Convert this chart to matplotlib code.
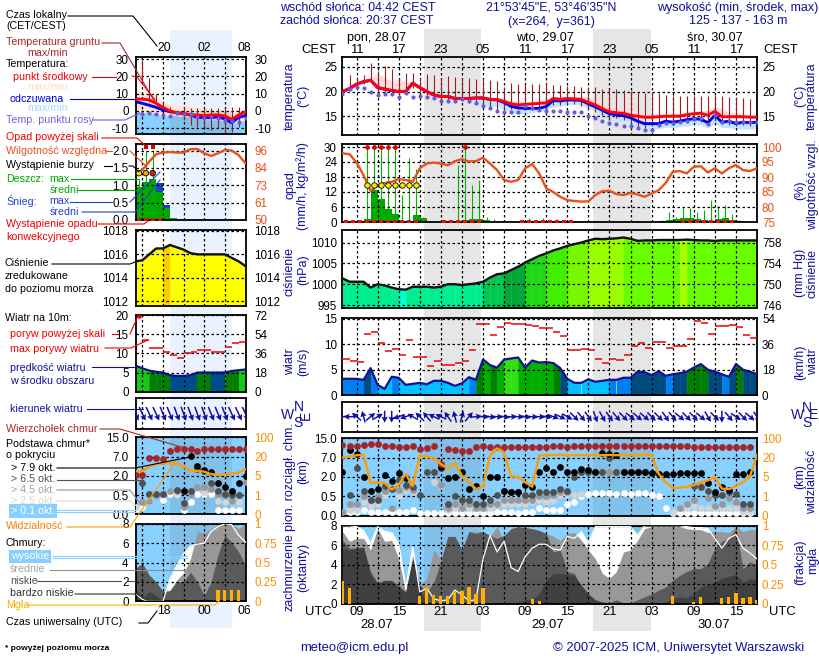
"""
meteogram from the ICM forecast page, redrawn with matplotlib
two sets of panels: short range column on the left, main column on the right
"""

import numpy as np
import matplotlib
matplotlib.use('Agg')
import matplotlib.pyplot as plt

plt.rcParams['font.family'] = ['Liberation Sans', 'DejaVu Sans']

W, H = 820, 660
nan = np.nan

# ── Main column (hours after 07 UTC 28.07) ────────────────────────────────────

temp_mid = [20, 20.6, 21.5, 22, 22.3, 20.8, 20.5, 20.2, 20, 20, 21.7, 20.8, 20, 19.3, 19, 19, 18.6, 18.6,
            18.6, 18.7, 18.7, 18.4, 18.4, 18, 17.5, 17.3, 17.4, 17.5, 17.6, 17.7, 18.6, 18.4, 18.6, 18.5, 18.4,
            17.8, 17.3, 16.5, 15.9, 15.7, 15.6, 15.2, 15, 14.8, 14.8, 14.9, 15, 15, 15, 15.3, 15.5, 15.6, 15.2,
            16, 14.9, 14.9, 14.9, 14.9, 14.8, 14.8]
temp_feel = [20, 20.6, 21.5, 22, 22.3, 20.8, 20.5, 20.2, 20, 20, 21.7, 20.8, 20, 19.3, 19, 19, 18.6, 18.6,
             18.6, 18.7, 18.7, 18.4, 18.3, 17.8, 17, 16.7, 16.6, 16.6, 16.6, 17, 18.2, 18.1, 18.3, 18.3, 18.2,
             17.5, 16.9, 16.2, 15.5, 15.3, 15.1, 14.7, 14, 13.5, 13.5, 13.5, 14, 13.8, 14, 14.3, 14.5, 14.4,
             13.7, 15.2, 13.8, 14, 13.5, 13.8, 13.7, 13.8]
temp_max = [20.2, 21, 21.8, 22.4, 22.8, 23.5, 23, 22, 22.5, 22, 22, 21, 21, 20, 19.4, 19.4, 19, 19, 19, 19.1,
            19.1, 18.8, 18.8, 18.6, 18.2, 18, 18, 18, 18.2, 18.4, 19, 19, 19.1, 19, 19, 19, 18.5, 18, 17.5, 17,
            16.5, 16.3, 16, 15.6, 15.5, 15.5, 15.5, 15.5, 15.5, 15.8, 16, 16.2, 16.2, 17, 16.6, 15.8, 15.6, 15.5,
            15.3, 15.2]
temp_feel_min = [19.8, 20.3, 21.2, 21.8, 22, 20.5, 20.2, 20, 19.8, 19.8, 21.4, 20.5, 19.8, 19, 18.7, 18.7, 18.3,
                 18.2, 18, 17.6, 17.2, 17, 17, 16.5, 15.7, 15.5, 15.5, 15.7, 16, 16.2, 17, 17, 17.4, 17.4, 17.2,
                 16.6, 16, 15, 14.4, 14.1, 13.9, 13.4, 12.8, 12.4, 12.3, 12.4, 12.8, 12.7, 12.9, 13, 13.3, 13.2,
                 12.6, 13.6, 12.7, 12.7, 12.4, 12.5, 12.4, 12.5]
ground_max = [nan, 23.3, 23, 23.4, 25.7, 24.2, 25.2, 24.6, 22.8, 23.8, 23.8, 22.8, 23.6, 23.3, 22.7, 23.1, 23, 22.7,
              22.7, 22.6, 22.5, 22.3, 22.1, 20.9, 21.7, 21.6, 21.5, 21.5, 21.6, 22, 21.4, 21.4, 21.2, 21.2, 21,
              20.9, 21, 20.5, 20.5, 20.5, 20.3, 20.1, 19.9, 19.8, 19.7, 19.7, 19.3, 19.2, 19.1, 19.1, 19, 19, 19,
              19.3, 19, 18.9, 18.8, 18.6, 18.4, nan]
ground_min = [nan, 20.3, 21, 21.6, 22, 20, 20, 19.8, 19.6, 19.8, 20.8, 19.9, 19.4, 18.8, 18.4, 18.3, 18.2, 18.2,
              17.7, 17.4, 17, 16.7, 16.2, 16.2, 16.4, 16.4, 16.6, 16.2, 16.2, 16.4, 17.2, 17.2, 17.4, 17.4, 17, 16.4,
              15.8, 15.2, 14.4, 14.6, 14.2, 13.4, 12.9, 12.7, 13, 13.2, 13.4, 13.2, 13.6, 13.8, 14, 13.8, 13.2,
              14, 13.4, 13.2, 13, 13.2, 13, nan]
dew_point = [19.5, 20.5, 21, 20.7, 20, 19.3, 19.5, 19.6, 18.8, 19.7, 18.9, 19.2, 18.8, 18.6, 18.1, 18, 18.1, 18.4,
             18, 17.6, 17, 16.7, 16, 15.8, 15.9, 15.8, 17, 16.7, 16.3, 16, 16, 16, 15.8, 15.8, 15.9, 15.1, 14.7,
             14, 13.6, 13.4, 13, 13, 12.7, 12.2, 12.3, 13.2, 13.7, 13.6, 13.9, 14, 14.4, 14.7, 13.5, 15.3, 13.8,
             14, 13.9, 13.9, 13.8, 13.9]

rain_mean = [0, 0, 0, 1.3, 12.7, 9.4, 5.4, 3.3, .6, .3, 2.7, 1.6, 0, 0, 0, 0, 0, 1, 1.2, 1.2, 1, 0, 0, 0, 0, 0, 0,
             0, 0, 0, 0, 0, 0, 0, 0, 0, 0, 0, 0, 0, 0, 0, 0, 0, .1, .4, 1, 1.1, 1.8, 1.8, 1.1, .7, .3, 1.2, 1.7,
             1, .3, .1, 0, 0]
rain_max = [0, 0, .3, 30, 30, 30, 30, 30, 10.7, 25.7, 21.4, 2, 0, .2, 0, 0, 23, 30, 14.7, 16.7, 2, 1.3, .5, .5, .3,
            1, 1.5, 1, 1.5, 1, 1.3, .8, .3, 0, 0, 0, 0, 0, 0, 0, 0, 0, 0, 0, .3, 1, 4, 2, 6, 5.8, 4, 5, 9, 6.3,
            6.7, 3.3, .8, .5, .3, 0]
over_scale_hours = [3, 4, 5, 6, 7, 17]
storm_hours = [3, 4, 5, 6, 7, 8, 9, 10]
storm_level = 15
convective_hours = [0, 1, 2, 3, 4, 5, 6, 7, 8, 9, 10, 14, 15, 16, 17, 18, 19, 25, 26, 27, 28, 29, 30, 31, 32,
                    48, 49, 50, 51, 52, 53, 54, 55]
humidity = [97.9, 97.6, 94.8, 90.6, 85.4, 87.3, 88, 88.4, 89.3, 89, 88.4, 92.9, 94.5, 94.8, 94.5, 93.9, 95.3, 95.9,
            95.2, 95.3, 96.4, 94.5, 92.3, 89, 88.4, 89, 92.9, 94.3, 91.2, 86.2, 85, 83.4, 82.3, 82, 81.8, 81.9, 84,
            85.3, 85.4, 84.3, 84, 84.7, 84.2, 83.4, 84.5, 85.6, 88, 91.7, 92, 91.2, 93.4, 93.6, 91.5, 92.9, 91.2,
            92.9, 94, 92.3, 92, 92.9]

pressure = [1001.4, 1000.6, 1000.6, 1000.6, 999.2, 1000, 999.7, 999.2, 998.8, 998.7, 999.4, 999.4, 999.4, 999.2,
            999.4, 1000, 1000, 999.8, 1000, 1000.2, 1000.6, 1001.6, 1002.4, 1002.6, 1003.4, 1004.2, 1005.2, 1006,
            1006.8, 1007.4, 1008.1, 1008.6, 1009.2, 1009.6, 1010, 1010.5, 1010.9, 1010.8, 1010.9, 1011, 1011.2,
            1010.9, 1010.4, 1010.5, 1010.5, 1010.6, 1010.6, 1010.6, 1010.6, 1010.7, 1010.6, 1010.5, 1010.5, 1010.4,
            1010.5, 1010.5, 1010.5, 1010.5, 1010.5, 1010.5]

wind = [3.2, 3.2, 3.2, 3, 5.3, 2, 1.2, 3.6, 3.4, 2, 2.2, 2.4, 2.1, 2.8, 2.8, 2.4, 1.8, 2.3, 3.5, 3, 7, 5.9, 5.4,
        7, 7.2, 7.4, 5.4, 6.8, 6.4, 6.5, 6.3, 5.3, 3.2, 2.4, 2.4, 3.1, 2.6, 2.8, 3, 3, 3.4, 3.4, 4.6, 4.5, 3.9,
        4.7, 3.8, 4.1, 4.3, 4.6, 5.4, 6.1, 5, 4.6, 4.1, 3.6, 6.1, 5, 4.6, 4.1]
gust = [7.2, 6.8, 6.6, 12, 12.4, 10.2, 8.6, 9.1, 7.8, 10.8, 7.4, 7.4, 5.7, 6.8, 5.9, 5.9, 6.4, 6.8, 8.8, 14.1,
        14.1, 11.8, 13.4, 14.3, 14.1, 14.1, 13.8, 13.6, 13.2, 13.2, 12.4, 11.6, 8.8, 8.8, 9, 8.8, 7.2, 6.3, 7.2,
        7, 7.8, 9.7, 10.2, 9.2, 10.4, 10.4, 9.2, 9.7, 9.7, 11, 14.6, 14.3, 12, 13.6, 13.6, 13.8, 13.4, 11.8, 11.3]
wind_bearing = [265, 270, 310, 345, 50, 60, 180, 180, 250, 250, 300, 315, 320, 295, 295, 325, 345, 15, 40, 85, 95,
                100, 95, 100, 90, 95, 100, 95, 95, 100, 110, 115, 120, 135, 140, 145, 160, 150, 145, 140, 135, 130,
                130, 130, 135, 135, 145, 140, 130, 135, 135, 130, 150, 135, 180, 140, 125, 135, 130, 145]

cloud_top = [12.2, 11.7, 12, 12.2, 12.8, 12.8, 12, 12, 11.3, 11.3, 12, 10.4, 10.9, 12, 5.4, 10.4, 10.3, 9.8, 9.8,
             11.3, 12, 11.3, 11.3, 11.3, 11.3, 11.3, 11.3, 11.3, 11.3, 11.3, 12, 12, 11.3, 12, 12, 12, 12, 12, 12,
             12, 12, 12, 12, 12, 12, 12, 12, 12, 12, 12, 11.3, 11.3, 11.3, 11.3, 11.3, 11.3, 11.3, 11.3, 11.3]
base_79 = [3.4, 10.2, 8.5, 2, .9, 1.1, 2.6, 1.7, 3, 1.9, nan, nan, nan, nan, 4.7, 1.9, 2, 3.2, 1.1, 1.3, .5, 2, 2,
           .9, .8, .8, 1.4, 1.2, 3.4, 4.3, 3.4, 4.5, 3.3, 3.3, 4.1, 3.7, 3.3, 8.9, 8.5, 8.1, 3.3, 3.3, 3.3, 3.3,
           3, 2.9, 2.9, 2.9, 3, 3, 3, 3, 1.5, .8, 1.2, 1, 2.7, 2.9, 3.2]
base_65 = [nan, .6, 4.3, .9, .4, .4, 1.3, 1.1, 1.8, 1.4, 1.2, .6, 3.3, 3.2, 4.3, .3, .5, .4, .4, .3, .3, .4, .6, .9,
           .8, .8, .6, .6, .8, .8, .8, 1.1, .9, 2.1, 3.4, 3.3, 3.3, 3.3, 7, 3.3, 3.3, 3.3, 3.3, 3.3, 3, nan, nan,
           nan, nan, nan, 1.3, 1.2, .9, .6, .6, .8, .7, .3, .3]
base_45 = [.1, .3, .3, .5, .4, .5, .9, .2, 1, 1.2, 1, nan, nan, nan, 1.4, .2, .3, .2, .3, .2, .2, .3, .3, .4, .4, .4,
           .4, .4, .5, .5, .6, .8, .8, nan, 3.2, 3.2, 3.3, 3.3, 3.3, 3.3, 3.3, 3.3, 3.3, 3.3, 3.1, nan, nan, nan,
           .2, .3, .4, 1.3, .45, .25, .3, .45, .35, .2, .2]
base_25 = [nan, .15, .15, .35, .25, .3, .6, .2, .5, 1, .8, nan, nan, 1.6, 1.3, .15, .2, .2, .2, .2, .2, .2, .25, .3,
           .3, .3, .3, .35, .4, .35, .4, .6, .65, .6, .65, nan, nan, 3.3, nan, nan, nan, nan, nan, nan, nan, nan,
           nan, .1, .2, .2, .25, .2, .2, .2, .2, .2, .2, .1, .1]
base_01 = [nan, .1, .1, .15, .1, .1, .1, .1, .1, .1, .15, .07, .07, .07, .07, .07, .08, .07, .07, .07, .07, .07, .1,
           .1, .1, .08, .1, .1, .2, .15, .15, .15, .3, .35, .5, .7, .75, .75, .75, .7, .75, .7, .75, .75, .6, .55,
           .2, .08, .08, .08, .08, .08, .08, .07, .07, .07, .07, .07, .07]
visibility = [20, 24, 30, 31, 3.8, 3.8, 3.8, 2.4, 3.4, 7.4, 3.1, 31, 22, 20, 15, 11.4, 16, 5.9, 4, 2.5, 3, 29, 58,
              40, 5.3, 5.3, 3.9, 3, 29, 31, 31, 31, 31, 30, 30, 31, 31, 30, 31, 30, 31, 31, 31, 31, 33, 7.4, 3.9,
              2.7, 2.8, 3, 3.3, 3.9, 4.3, 5.1, 2.6, 2.5, 3.1, 3.9, 5.4, 31]

cloud_high = [8, 8, 7.9, 7.5, 6.2, 7.9, 7.4, 7.3, 6.2, 1.6, 5.8, 1.2, 1.6, .5, .3, .4, 1.4, .9, .3, .4, 4.6, 7, 5.3,
              6.4, 3.7, 3.3, 4.8, 5.7, 6.1, 6.1, 5.6, 5.5, 6.9, 6.7, 7.4, 6.2, 7.9, 7.9, 7.9, 7.9, 7.9, 7.9, 7, 8,
              8, 8, 8, 8, 8, 7.9, 7.8, 7.8, 7.7, 6.7, 5.7, 6.7, 7.1, 5.7, 5.2, 4.6]
cloud_mid = [7.4, 6.4, 6.7, 6.7, 5.5, 7.7, 6.4, 6.5, 4.6, 1.2, 5, 1.9, 2.6, 5.5, 4.6, 6.9, 6.9, 5.5, 7.4, 7.4, 7.4,
             6.9, 7.9, 6.4, 7.7, 7.9, 7.8, 7.7, 7.5, 7.2, 6.9, 6.5, 7.2, 7.3, 6.5, 5.5, 4.6, 3.1, 2.6, 3.3, 5.3, 5.5,
             6.5, 7.7, 7.9, 7.9, 7.9, 7.9, 7.9, 7.7, 7.6, 7.6, 7.3, 7.4, 7.4, 7.3, 7.9, 7.4, 7.6, 7.6]
cloud_low = [6.5, 5.7, 5.7, 5.8, 3.3, 2.1, 2.4, 2.4, 1.9, 1.2, 4.6, 1.9, 1.2, 2.2, 4.3, 6.9, 6.9, 5.5, 7.4, 7.2, 7.4,
             7, 6.7, 7, 7.7, 7.9, 7.8, 7.7, 7.5, 7.2, 5.3, 5.5, 3.3, 3.1, 1.6, .6, .4, .2, .1, .4, .1, .1, .4, .7, 1,
             1.4, 1.7, 2.4, 2.9, 3.3, 3.6, 3.6, 4.1, 5.7, 6.4, 6.7, 7.7, 3.6, 4.3, 4]
cloud_vlow = [5.7, 5.5, 5.7, 5.8, 2.9, 2.1, 2.4, 2.3, 1.6, 1.2, 4.6, 1.6, 0, 0, 0, 0, 0, 0, 0, 0, 0, 0, .1, .1, .1,
              .2, .4, .5, 1, 2.4, 3.1, 3.1, 3, 2.9, 1.9, 1, .4, .1, 0, 0, 0, 0, 0, 0, 0, 0, .2, .5, .7, .6, 1, 1.7,
              2, 2.2, 2.6, 2.8, 3, 2.2, 2.6, 2.4]
fog_hours = [0, 1, 11, 12, 13, 14, 15, 16, 17, 18, 19, 20, 27, 28, 47, 50, 51, 54, 55, 56, 57, 58, 59]
fog_fraction = [.29, .2, .1, .2, .11, .1, .1, .15, .16, .22, .12, .2, .06, .04, .1, .02, .08, .07, .09, .14, .07,
                .09, .05]

# ── Short range column (hours after 00 UTC 28.07) ─────────────────────────────

s_temp_mid = [7, 6.8, 6.4, 4.4, 2.1, 0, -1, -1.4, -2.3, -2.3, -2.7, -2.3, -2.3, -2.9, -4.8, -2.3, -.4]
s_temp_feel = [5.4, 4.4, 3.3, 2.1, .6, -.4, -1, -1.7, -2.3, -3.7, -3.7, -3.9, -3.3, -4.6, -6.8, -3.7, -2.7]
s_temp_top = [13, 11, 9.8, 8.3, 5.4, 4, 4, 2.9, 2.5, 2.1, 1.5, .6, .2, .6, -1.4, -.4, 0]
s_blue_top = [-.4, -.9, -1.2, -1.5, -3.3, -2.3, -2.8, -3.3, -3.3, -4, -5, -5.2, -5.2, -5.8, -7, -6.5, -5.2]
s_dew = [-1.5, -1.4, -1.7, -2.1, -2.9, -1.4, -1.7, -1.7, -3.3, -4.2, -3.7, -4.2, -5.2, -5.6, -6.2, -4.2]
s_ground_max = [nan, 29.5, 19, 10, 6, 2.5, -.4, 2.5, 1.5, 2, 1.5, 1.5, 1.5, 1.5, 2.5, 2.5, nan]
s_ground_min = [nan, 17, 5.4, 4.4, 1.5, -.4, -1.4, -5, -8, -9, -9, -11, -10, -13, -12, -9, nan]

s_rain_mean = [.96, 1.1, 1.18, .8, .34, .07, 0, 0, 0, 0, 0, 0, 0, 0, 0, 0, 0]
s_snow_mean = [0, 0, 0, 1.08, .43, 0, 0, 0, 0, 0, 0, 0, 0, 0, 0, 0, 0]
s_rain_max = [1.15, 2, 2, 0, 0, 0, 0, 0, 0, 0, 0, 0, 0, 0, 0, 0, 0]
s_over_scale_hours = [15, 16]
s_storm_hours = [14, 15, 16]
s_storm_level = 1.35
s_convective_hours = [14, 15, 16, 17]
s_humidity = [81, 83.2, 88.7, 93.6, 94.7, 95, 94.7, 94.7, 97, 97, 94.2, 92.5, 94.2, 96.4, 96, 93, 87.6]

s_pressure = [1015.4, 1015.5, 1016, 1016.5, 1016.5, 1016.8, 1016.6, 1016.4, 1016.1, 1016, 1016, 1016, 1016, 1016,
              1015.7, 1015.4, 1015]

s_wind = [6.8, 6.1, 5.5, 5.2, 5, 4.3, 4.1, 4.1, 4.3, 5, 5, 5, 5, 5, 5.4, 5.6, 5.8]
s_gust = [nan, 13.4, 11.5, 11.5, 10.4, 9.5, 8.7, 10, 10.4, 10.8, 10.8, 10.4, 10.4, 11.6, 12.7, 12.9]
s_gust_over = 19.8
s_wind_bearing = [155, 155, 155, 155, 158, 158, 160, 160, 160, 160, 160, 158, 158, 158, 155, 155, 155]

s_cloud_top = [2.1, 2.1, 6.6, 6.6, 6.3, 9.3, 10.1, 10.1, 10.1, 9.3, 10.1, 10.1, 10.1, 10.1, 10.1, 10.1, 10.1]
s_base_79 = [nan, nan, nan, nan, nan, nan, nan, .8, 7.2, 4.5, 3.6, 3, 1.4, 1.1, .8, 1.4, 2]
s_base_65 = [nan, 1.4, .6, .6, .6, nan, .9, .3, .8, 3.8, 3.2, 1.4, .8, .6, .5, .5, nan]
s_base_45 = [nan, .33, .35, .5, .6, .8, .8, .2, .55, 1.1, 1.1, 1, .55, .5, .35, .5, 1.5]
s_base_25 = [.2, nan, nan, nan, nan, .8, .65, nan, nan, nan, .7, nan, .35, .33, .33, .33, nan]
s_base_01 = [.15, .2, .35, nan, .38, .55, .58, .1, .33, .58, .58, .58, .1, .1, .1, .1, nan]
s_visibility = [8.7, 8.7, 12.1, 14.2, 14.7, 14.7, 14.7, 12.1, 8.9, 8.9, 8.2, 6.3, 5.5, 6, 6.8, 7.4, 10]

s_cloud_high = [.8, .2, 0, 0, 0, 2.3, 3.7, 4.9, 5.7, 5.9, 6, 7.2, 7.7, 8, 7.9, 6.8, 6.1]
s_cloud_mid = [3.4, 3.9, 2.7, 2, 1, 1.1, 2.2, 2.9, 4.4, 7.2, 7, 7.5, 8, 8, 8, 7.5, 8]
s_cloud_low = [3.4, 3.9, 2.7, 2, 1, 1.1, 2, 2, 3, 2, .6, 2, 4.8, 6.8, 6.1, 5.1, 3.7]
s_cloud_vlow = [1.3, .3, 1, .6, 0, 0, 0, 0, 0, 0, 0, 0, 0, 0, 0, 0, 0]
s_fog_hours = [26, 27, 28, 29]
s_fog_fraction = [.14, .14, .14, .14]

# sun and time axis
night_start = [11.62, 35.6]
night_end = [19.7, 43.9]
s_day_start, s_day_end = 19, 28
hours = np.arange(60)
s_hours = np.arange(14, 31)
grid_hours = np.arange(2, 60, 3)
s_grid_hours = np.arange(15, 30, 3)

local_labels = ['11', '17', '23', '05', '11', '17', '23', '05', '11', '17']
utc_labels = ['09', '15', '21', '03', '09', '15', '21', '03', '09', '15']
s_local_labels = ['20', '02', '08']
s_utc_labels = ['18', '00', '06']
base_ticks = [0, .5, 2, 7, 15]
base_labels = ['0.0', '0.5', '2.0', '7.0', '15.0']
vis_ticks = [0, 1, 5, 20, 100]

# colours
NAVY = '#10109a'
SKY = '#87d0ff'
RHC = '#e8501c'
ORANGE = '#ff8c00'
VIS = '#ff9c00'
FOG = '#ffb000'
BROWN = '#a82828'
GROUND = '#a01c1c'
DEW = '#6a5ae0'
GREEN = '#00a800'
LINE = '#00b400'
MID, LOW, VLOW = '#989898', '#5a5a5a', '#404040'

press_colours = (['#00ee90'] * 8 + ['#00ffcc'] + ['#00ee90'] * 11 + ['#00c850'] * 3 + ['#00a838'] * 3
                 + ['#20d818'] * 3 + ['#40ee00'] * 3 + ['#78f800'] * 3 + ['#98ff00'] * 5 + ['#68ff00'] * 8
                 + ['#a8ff00'] + ['#68ff00'] * 10)
s_press_colours = ['#ffff00'] * 4 + ['#ffcc00'] + ['#ffff00'] * 11
s_wind_colours = (['#18c818'] * 2 + ['#007f00'] * 3 + ['#004c88'] * 4 + ['#007f00'] * 2 + ['#004c88'] * 2
                  + ['#007f00'] * 2 + ['#18c818'])

fig = plt.figure(figsize=(W / 100, H / 100), dpi=100, facecolor='white')
TICK_FS = 8.4


def panel(x0, x1, y0, y1, xlim, ylim, grid):
    ax = fig.add_axes([x0 / W, 1 - y1 / H, (x1 - x0) / W, (y1 - y0) / H])
    ax.set_facecolor('none')
    ax.set_xlim(xlim)
    ax.set_ylim(ylim)
    ax.set_xticks(grid)
    ax.set_xticklabels([])
    ax.tick_params(length=0, labelsize=TICK_FS, pad=4)
    ax.grid(True, color='k', ls=(0, (2, 2)), lw=0.9)
    ax.set_axisbelow(False)
    for s in ax.spines.values():
        s.set_linewidth(1.3)
    return ax


def ticks(ax, pos, left, right, rcol='k', lpad=4, rpad=3.6):
    ax.set_yticks(pos)
    ax.set_yticklabels(left)
    ax.tick_params(axis='y', pad=lpad)
    tw = ax.twinx()
    tw.set_ylim(ax.get_ylim())
    tw.set_yticks(pos)
    tw.set_yticklabels(right, color=rcol)
    tw.tick_params(length=0, labelsize=TICK_FS, pad=rpad)
    for s in tw.spines.values():
        s.set_visible(False)
    return tw


def strips(ax, x, y, bottom, colours):
    for i in range(len(x) - 1):
        ax.fill_between(x[i:i + 2], bottom, y[i:i + 2], color=colours[i], lw=0.3, zorder=1)


def speed_colour(v):
    for lim, c in [(1.6, '#00f0ff'), (3, '#00c0ff'), (4, '#0080f0'), (5, '#004a80'),
                   (6, '#008000'), (7, '#00b000')]:
        if v < lim:
            return c
    return '#30e010'


def base_scale(v):
    return np.interp(v, base_ticks, [0, 1, 2, 3, 4])


def vis_scale(v):
    return np.interp(v, vis_ticks, [0, 1, 2, 3, 4])


# ── Backdrop bands ────────────────────────────────────────────────────────────

back = fig.add_axes([0, 0, 1, 1], zorder=-1)
back.set_xlim(0, W)
back.set_ylim(H, 0)
back.axis('off')
X0, X1 = 342.5, 757.0
S0, S1 = 135.5, 245.5
for a, b in zip(night_start, night_end):
    back.axvspan(X0 + a * (X1 - X0) / 59, X0 + b * (X1 - X0) / 59, ymin=1 - 631 / H, ymax=1 - 29 / H,
                 color='#e6e6e6', lw=0)
back.axvspan(S0 + (s_day_start - 14) * (S1 - S0) / 16, S0 + (s_day_end - 14) * (S1 - S0) / 16,
             ymin=1 - 628 / H, ymax=1 - 30 / H, color='#eaf2ff', lw=0)

# ── Panels of one column ──────────────────────────────────────────────────────

xlim = (0, 59)
s_xlim = (14, 30)
SP = dict(lpad=5, rpad=6.5)

# temperature
ax = panel(X0, X1, 57, 135, xlim, (11.2, 27), grid_hours)
ax.fill_between(hours, temp_mid, temp_max, color='#ffdcdc', lw=0, zorder=1)
ax.fill_between(hours, temp_feel_min, temp_feel, color='#bfe6ff', lw=0, zorder=1)
ax.vlines(hours, ground_min, ground_max, color=GROUND, lw=0.8, zorder=3)
ax.plot(hours, temp_feel, color='#0000f0', lw=2.1, zorder=4)
ax.plot(hours, temp_mid, color='#ff0010', lw=2.1, zorder=4)
ax.scatter(hours, dew_point, s=9, color=DEW, lw=0, zorder=5)
ticks(ax, [15, 20, 25], ['15', '20', '25'], ['15', '20', '25'])

ax = panel(S0, S1, 57.3, 134, s_xlim, (-13.3, 31), s_grid_hours)
ax.fill_between(s_hours, s_temp_mid, s_temp_top, color='#ffe4d8', lw=0, zorder=1)
ax.fill_between(s_hours, s_blue_top, s_temp_mid, color='#ffe4d8', lw=0, zorder=1)
ax.fill_between(s_hours, -14, s_blue_top, color='#88d0ff', lw=0, zorder=1)
ax.axvspan(s_day_start, s_day_end, ymax=0.3, color='#505050', alpha=0.12, lw=0, zorder=1)
ax.vlines(s_hours, s_ground_min, s_ground_max, color=GROUND, lw=0.8, zorder=3)
ax.plot(s_hours, s_temp_feel, color='#0000f0', lw=2.1, zorder=4)
ax.plot(s_hours, s_temp_mid, color='#ff0010', lw=2.1, zorder=4)
ax.scatter(s_hours[1:], s_dew, s=9, color=DEW, lw=0, zorder=5)
ticks(ax, [-10, 0, 10, 20, 30], ['-10', '0', '10', '20', '30'], ['-10', '0', '10', '20', '30'], **SP)

# precipitation and humidity, humidity shares the panel through a linear map
ax = panel(X0, X1, 144, 222, xlim, (0, 31.2), grid_hours)
ax.bar(hours, rain_mean, width=1, align='edge', color=GREEN, lw=0, zorder=1)
ax.vlines(hours + .5, 0, rain_max, color=LINE, lw=0.8, zorder=2)
ax.plot(hours, (np.array(humidity) - 75) * 30 / 25, color=RHC, lw=1.7, zorder=3)
ax.scatter(np.array(over_scale_hours) + .5, [30] * len(over_scale_hours), s=12, marker='o', color='#e00000', lw=0, zorder=5)
ax.scatter(np.array(storm_hours) + .5, [storm_level] * len(storm_hours), s=16, color='#ffe800', edgecolor='k', lw=.6, zorder=5)
ax.scatter(np.array(convective_hours) + .5, [0.2] * len(convective_hours), s=7, marker='s', color='#e01010', lw=0, zorder=5)
ticks(ax, [0, 6, 12, 18, 24, 30], ['0', '6', '12', '18', '24', '30'], ['75', '80', '85', '90', '95', '100'], rcol=RHC)

ax = panel(S0, S1, 144, 220, s_xlim, (0, 2.19), s_grid_hours)
ax.bar(s_hours, s_snow_mean, width=1, align='edge', color='#1c40c8', lw=0, zorder=1)
ax.bar(s_hours, s_rain_mean, width=1, align='edge', color=GREEN, lw=0, zorder=1)
ax.vlines(s_hours + .5, 0, s_rain_max, color=LINE, lw=0.8, zorder=2)
ax.plot(s_hours, (np.array(s_humidity) - 50) * 2 / 46, color=RHC, lw=1.7, zorder=3)
ax.scatter(np.array(s_over_scale_hours) + .5, [2.09] * 2, s=12, marker='s', color='#e00000', lw=0, zorder=5)
ax.scatter(np.array(s_storm_hours) + .5, [s_storm_level] * 3, s=16, c=['#ffe800', '#f0a800', '#e82000'], edgecolor='k', lw=.6, zorder=5)
ax.scatter(np.array(s_convective_hours) + .5, [0.01] * 4, s=7, marker='s', color='#e01010', lw=0, zorder=5)
ticks(ax, [0, .5, 1, 1.5, 2], ['0.0', '0.5', '1.0', '1.5', '2.0'], ['50', '61', '73', '84', '96'], rcol=RHC, **SP)

# pressure
ax = panel(X0, X1, 230, 308, xlim, (994.3, 1013), grid_hours)
strips(ax, hours, pressure, 994.3, press_colours)
ax.plot(hours, pressure, color='#101010', lw=1.7, zorder=4)
ticks(ax, [995, 1000, 1005, 1010], ['995', '1000', '1005', '1010'], ['746', '750', '754', '758'])

ax = panel(S0, S1, 229.7, 306, s_xlim, (1011.6, 1018.1), s_grid_hours)
strips(ax, s_hours, s_pressure, 1011.6, s_press_colours)
ax.plot(s_hours, s_pressure, color='#101010', lw=1.7, zorder=4)
ticks(ax, [1012, 1014, 1016, 1018], ['1012', '1014', '1016', '1018'], ['1012', '1014', '1016', '1018'], **SP)

# wind speed
ax = panel(X0, X1, 317.7, 395, xlim, (0, 15.25), grid_hours)
strips(ax, hours, wind, 0, [speed_colour((wind[i] + wind[i + 1]) / 2) for i in range(59)])
ax.plot(hours, wind, color='#101090', lw=1.6, zorder=4)
ax.hlines(gust, hours[:59], hours[:59] + 1, color='#f00000', lw=1.1, zorder=4)
ticks(ax, [0, 5, 10, 15], ['0', '5', '10', '15'], ['0', '18', '36', '54'])

ax = panel(S0, S1, 315, 391.7, s_xlim, (0, 20), s_grid_hours)
strips(ax, s_hours, s_wind, 0, s_wind_colours)
ax.plot(s_hours, s_wind, color='#101090', lw=1.6, zorder=4)
ax.hlines(s_gust, s_hours[:16], s_hours[:16] + 1, color='#f00000', lw=1.1, zorder=4)
ax.scatter([14.5], [s_gust_over], s=10, color='#e00000', lw=0, zorder=5)
ticks(ax, [0, 5, 10, 15, 20], ['0', '5', '10', '15', '20'], ['0', '18', '36', '54', '72'], **SP)


def arrows(ax, x, bearing, length):
    b = np.radians(bearing)
    ax.quiver(x, np.zeros(len(x)), np.sin(b) * length, np.cos(b) * length, angles='uv', pivot='mid',
              units='dots', scale_units='dots', scale=1, width=1.5, headwidth=4.2, headlength=4,
              headaxislength=3.5, color='#1010a8', zorder=4)


# wind direction
ax = panel(X0, X1, 401.7, 431.7, xlim, (-1, 1), grid_hours)
ax.set_yticks([])
arrows(ax, hours, wind_bearing, 12)
ax = panel(S0, S1, 398.3, 429.3, s_xlim, (-1, 1), s_grid_hours)
ax.set_yticks([])
arrows(ax, s_hours, s_wind_bearing, 15)

# cloud base, quasi-log axis
ax = panel(X0, X1, 437.7, 515.7, xlim, (0, 4.03), grid_hours)
ax.set_facecolor(SKY)
for a, b in zip(night_start, night_end):
    ax.axvspan(a, b, color='#505050', alpha=0.12, lw=0, zorder=0)
for vals, col in [(base_01, 'white'), (base_25, '#d4d4d4'), (base_45, '#989898'), (base_65, '#505050'),
                  (base_79, 'black'), (cloud_top, '#a52428')]:
    ax.scatter(hours[:59], base_scale(vals), s=24, color=col, lw=0, zorder=3)
ax.plot(hours, vis_scale(visibility), color=VIS, lw=1.7, zorder=4)
ticks(ax, [0, 1, 2, 3, 4], base_labels, ['0', '1', '5', '20', '100'], rcol=ORANGE)

ax = panel(S0, S1, 436.7, 514.3, s_xlim, (0, 4.03), s_grid_hours)
ax.set_facecolor(SKY)
ax.axvspan(s_day_start, s_day_end, color='#505050', alpha=0.12, lw=0, zorder=0)
for vals, col in [(s_base_01, 'white'), (s_base_25, '#d4d4d4'), (s_base_45, '#989898'), (s_base_65, '#505050'),
                  (s_base_79, 'black'), (s_cloud_top, '#a52428')]:
    ax.scatter(s_hours, base_scale(vals), s=24, color=col, lw=0, zorder=3)
ax.plot(s_hours, vis_scale(s_visibility), color=VIS, lw=1.7, zorder=4)
ticks(ax, [0, 1, 2, 3, 4], base_labels, ['0', '1', '5', '20', '100'], rcol=ORANGE, **SP)


def cloud_panel(ax, x, high, mid, low, vlow, fog_x, fog):
    ax.set_facecolor(SKY)
    ax.fill_between(x, 0, high, color='white', lw=0, zorder=1)
    ax.fill_between(x, 0, mid, color=MID, lw=0, zorder=1)
    ax.fill_between(x, 0, low, color=LOW, lw=0, zorder=1)
    ax.fill_between(x, 0, vlow, color=VLOW, lw=0, zorder=1)
    ax.plot(x, high, color='white', lw=.9, zorder=3)
    ax.bar(fog_x, np.array(fog) * 8, width=.45, color=FOG, lw=0, zorder=3)


# cloud cover and fog
ax = panel(X0, X1, 525.7, 603.7, xlim, (0, 8), grid_hours)
for a, b in zip(night_start, night_end):
    ax.axvspan(a, b, color='#505050', alpha=0.12, lw=0, zorder=0)
cloud_panel(ax, hours, cloud_high, cloud_mid, cloud_low, cloud_vlow, fog_hours, fog_fraction)
ticks(ax, [0, 2, 4, 6, 8], ['0', '2', '4', '6', '8'], ['0', '0.25', '0.5', '0.75', '1'], rcol=ORANGE)

ax = panel(S0, S1, 523.7, 601.3, s_xlim, (0, 8), s_grid_hours)
ax.axvspan(s_day_start, s_day_end, color='#505050', alpha=0.12, lw=0, zorder=0)
cloud_panel(ax, s_hours, s_cloud_high, s_cloud_mid, s_cloud_low, s_cloud_vlow, s_fog_hours, s_fog_fraction)
ticks(ax, [0, 2, 4, 6, 8], ['0', '2', '4', '6', '8'], ['0', '0.25', '0.5', '0.75', '1'], rcol=ORANGE, **SP)

# ── Texts and leader lines, in pixels ─────────────────────────────────────────

over = fig.add_axes([0, 0, 1, 1], zorder=10)
over.set_xlim(0, W)
over.set_ylim(H, 0)
over.axis('off')

FS = 7.7


def put(x, y, s, col='k', ha='left', size=FS, **kw):
    over.text(x, y, s, color=col, ha=ha, va='center', fontsize=size, **kw)


for x, y, s in [(280, 8, 'wschód słońca: 04:42 CEST'), (280, 21.5, 'zachód słońca: 20:37 CEST')]:
    put(x, y, s, NAVY, size=8.9)
put(551, 8, '21°53\'45"E, 53°46\'35"N', NAVY, ha='center', size=8.9)
put(551, 21.5, '(x=264,  y=361)', NAVY, ha='center', size=8.9)
put(738, 8, 'wysokość (min, środek, max)', NAVY, ha='center', size=9)
put(738, 21.5, '125 - 137 - 163 m', NAVY, ha='center', size=9)

for x, s in [(377, 'pon, 28.07'), (545, 'wto, 29.07'), (715, 'śro, 30.07')]:
    put(x, 38, s, ha='center', size=9)
for x, y in [(319, 50), (781, 50)]:
    put(x, y, 'CEST', ha='center', size=9.4)
for x, y in [(318, 612), (782, 612)]:
    put(x, y, 'UTC', ha='center', size=9.4)

step = (X1 - X0) / 59
for i, s in enumerate(local_labels):
    put(X0 + (2 + 6 * i) * step, 50, s, ha='center', size=9.4)
for i, s in enumerate(utc_labels):
    put(X0 + (2 + 6 * i) * step, 612, s, ha='center', size=9.4)
for x, s in [(377, '28.07'), (548, '29.07'), (714, '30.07')]:
    put(x, 625, s, ha='center', size=9.4)
for x, s, s2 in zip([164, 204, 244], s_local_labels, s_utc_labels):
    put(x, 47.7, s, ha='center', size=8.8)
    put(x, 610.7, s2, ha='center', size=8.8)

# rotated names next to the main column
for x, y, s in [(290, 96, 'temperatura'), (303, 96, '(°C)'), (812, 96, 'temperatura'), (800, 96, '(°C)'),
                (291, 185, 'opad'), (303, 186, '(mm/h, kg/m²/h)'), (800, 190, '(%)'), (813, 185, 'wilgotność wzgl.'),
                (290, 272, 'ciśnienie'), (303, 270, '(hPa)'), (800, 273, '(mm Hg)'), (813, 273, 'ciśnienie'),
                (290, 362, 'wiatr'), (303, 362, '(m/s)'), (800, 362, '(km/h)'), (813, 362, 'wiatr'),
                (290, 477, 'pion. rozciągł. chm.'), (303, 472, '(km)'), (800, 477, '(km)'), (812, 482, 'widzialność'),
                (290, 572, 'zachmurzenie'), (303, 567, '(oktanty)'), (800, 562, '(frakcja)'), (813, 560, 'mgła')]:
    over.text(x, y, s, color=NAVY, ha='center', va='center', rotation=90, fontsize=9)

for x, y, s, r in [(288, 415, 'W', 0), (299, 407, 'N', 0), (298, 423, 'S', 0), (306, 415, 'E', 90),
                   (798, 415, 'W', 0), (807, 408, 'N', 0), (807, 423, 'S', 0), (814, 415, 'E', 0)]:
    put(x, y, s, NAVY, ha='center', rotation=r, size=10)

# column of legend names on the far left
legend = [
    (6, 14.7, 'Czas lokalny', 'k'), (6, 26, '(CET/CEST)', 'k'), (6, 42.3, 'Temperatura gruntu', BROWN),
    (27, 52.7, 'max/min', BROWN), (6, 64.3, 'Temperatura:', 'k'), (12.7, 76.7, 'punkt środkowy', '#f00000'),
    (27, 86.7, 'max/min', '#ffd8c8'), (10, 98.7, 'odczuwana', '#0000e0'), (27, 108.3, 'max/min', '#a8d8ff'),
    (6, 120.3, 'Temp. punktu rosy', '#7060e0'), (6, 137.3, 'Opad powyżej skali', '#f00000'),
    (6, 151, 'Wilgotność względna', RHC), (6, 165, 'Wystąpienie burzy', 'k'), (6, 179.3, 'Deszcz:', GREEN),
    (49.3, 179.3, 'max', GREEN), (49.3, 190, 'średni', GREEN), (6, 201.3, 'Śnieg:', '#2040d0'),
    (49.3, 201.3, 'max', '#2040d0'), (49.3, 212.3, 'średni', '#2040d0'), (6, 224, 'Wystąpienie opadu', '#f00000'),
    (6, 237.3, 'konwekcyjnego', '#f00000'), (5, 263.3, 'Ciśnienie', 'k'), (5, 276.3, 'zredukowane', 'k'),
    (5, 289, 'do poziomu morza', 'k'), (5, 318, 'Wiatr na 10m:', 'k'), (10, 334.3, 'poryw powyżej skali', '#f00000'),
    (10, 348.7, 'max porywy wiatru', '#f00000'), (10, 368.3, 'prędkość wiatru', NAVY),
    (10, 381.3, 'w środku obszaru', NAVY), (10, 409, 'kierunek wiatru', NAVY), (6, 429.3, 'Wierzchołek chmur', BROWN),
    (6, 444.3, 'Podstawa chmur*', 'k'), (6, 455, 'o pokryciu', 'k'), (10.7, 468.3, '> 7.9 okt.', 'k'),
    (10.7, 479.3, '> 6.5 okt.', '#505050'), (10.7, 490.3, '> 4.5 okt.', '#a0a0a0'),
    (10.7, 500.7, '> 2.5 okt.', '#d8d8d0'), (6, 526, 'Widzialność', '#ff8000'), (6, 543, 'Chmury:', 'k'),
    (10, 569, 'średnie', '#a0a0a0'), (10, 581, 'niskie', '#505050'), (10, 593.3, 'bardzo niskie', '#303030'),
    (6, 605, 'Mgła', FOG), (6, 622, 'Czas uniwersalny (UTC)', 'k'),
]
for x, y, s, c in legend:
    put(x, y, s, c)
put(11, 511, '> 0.1 okt.', 'white', bbox=dict(facecolor=SKY, edgecolor='none', pad=1.2))
put(11, 556.3, 'wysokie', 'white', bbox=dict(facecolor=SKY, edgecolor='none', pad=1.2))

leaders = [
    ([68, 133, 157], [16, 16, 46], 'k'), ([102, 120, 155], [43, 43, 102], BROWN), ([92, 116], [77, 77], '#f00000'),
    ([132, 137, 155], [76, 77, 100], '#f00000'), ([70, 134], [99, 99], '#0000e0'), ([93, 125, 140], [120, 120, 113], DEW),
    ([102, 137, 146], [138, 138, 146], '#f00000'), ([106, 112], [151, 151], RHC), ([130, 145], [151, 165], RHC),
    ([104, 112], [166, 166], 'k'), ([129, 133, 139], [166, 166, 172], 'k'), ([71, 139], [179, 179], GREEN),
    ([78, 143], [190, 190], GREEN), ([70, 112], [202, 202], '#2040d0'), ([130, 160], [202, 172], '#2040d0'),
    ([82, 135, 160], [212, 212, 180], '#2040d0'), ([98, 144, 148], [224, 224, 221], '#f00000'),
    ([52, 130, 135], [264, 264, 262], 'k'), ([112, 118], [334, 334], '#f00000'), ([130, 138], [334, 316], '#f00000'),
    ([105, 131, 148], [348, 348, 340], '#f00000'), ([92, 135], [367, 367], NAVY), ([87, 143], [409, 409], NAVY),
    ([100, 120, 185], [429, 429, 448], BROWN), ([57, 135, 190], [468, 468, 457], 'k'), ([57, 143], [480, 480], '#505050'),
    ([57, 130, 141], [490, 490, 505], '#909090'), ([57, 130, 138], [501, 501, 507], '#d8d8d0'),
    ([55, 135], [510, 510], SKY), ([55, 135], [512, 512], SKY), ([67, 130, 175], [527, 527, 462], '#ff9c00'),
    ([53, 187], [556, 556], SKY), ([53, 187], [558, 558], SKY), ([50, 194], [570, 570], '#909090'),
    ([37, 121], [581, 581], '#505050'), ([128, 135], [581, 581], '#505050'), ([75, 137, 148], [594, 594, 601], '#303030'),
    ([27, 215, 219], [605, 605, 601], FOG), ([139, 148, 157], [623, 623, 611], 'k'),
]
for lx, ly, c in leaders:
    over.plot(lx, ly, color=c, lw=0.8)
over.set_xlim(0, W)
over.set_ylim(H, 0)

put(5, 648, '* powyżej poziomu morza', 'k', size=6.1, fontweight='bold')
put(300, 648, 'meteo@icm.edu.pl', NAVY, size=9.4)
put(553, 648, '© 2007-2025 ICM, Uniwersytet Warszawski', NAVY, size=9.4)

fig.savefig('out.png', dpi=100)
